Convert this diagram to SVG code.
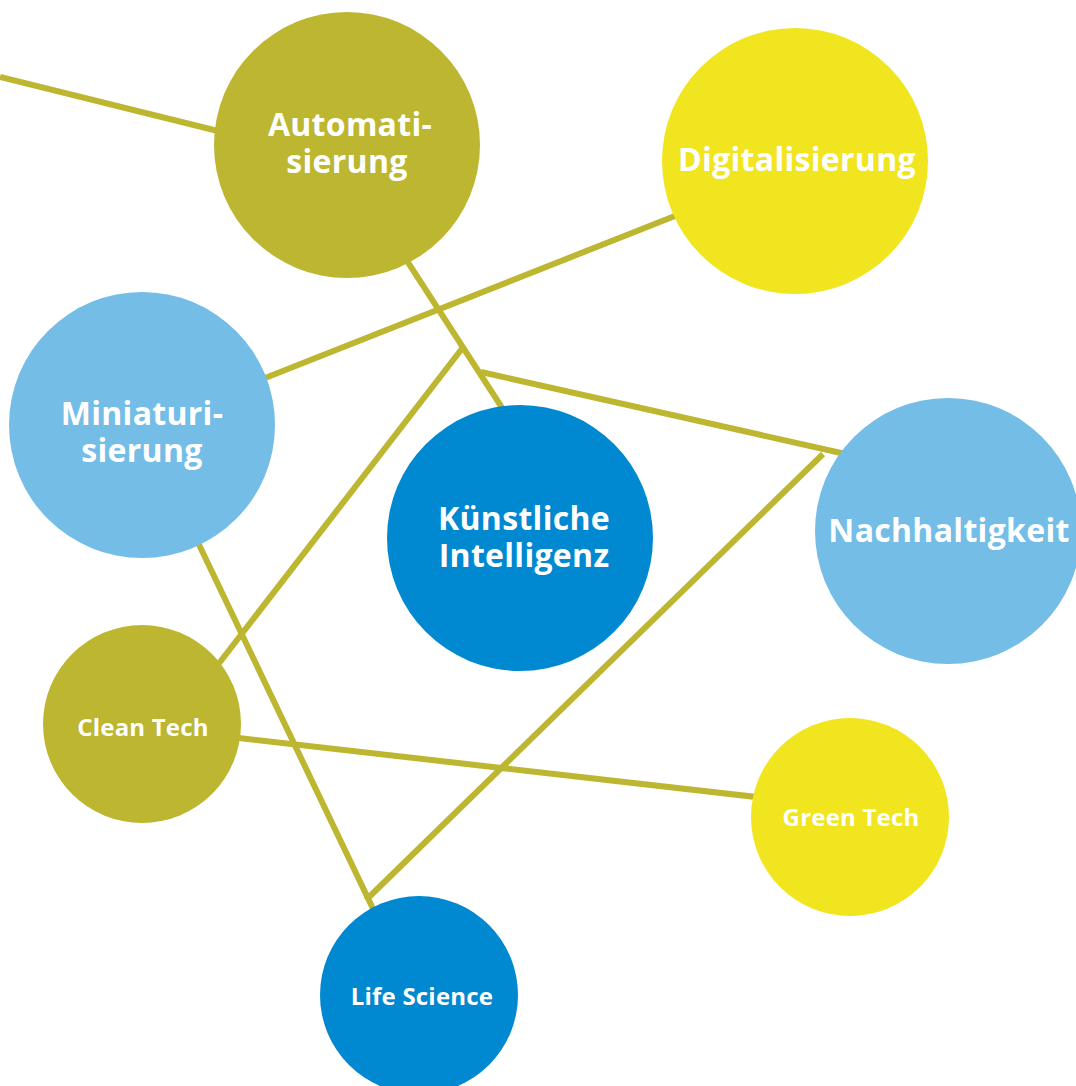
<svg xmlns="http://www.w3.org/2000/svg" width="1076" height="1086" viewBox="0 0 1076 1086">
  <style>
    .link { stroke: #BDB631; stroke-width: 6; fill: none; stroke-linecap: butt; stroke-linejoin: miter; }
    .olive { fill: #BDB631; }
    .yellow { fill: #F1E51F; }
    .sky { fill: #74BDE7; }
    .blue { fill: #0088D0; }
    .label { fill: #FFFFFF; font-family: "Open Sans", "Noto Sans", "Liberation Sans", sans-serif; font-weight: 700; text-anchor: middle; }
    .big { font-size: 32px; letter-spacing: 0.3px; }
    .small { font-size: 24px; letter-spacing: 0.2px; }
  </style>
  <rect width="1076" height="1086" fill="#FFFFFF"/>

  <!-- connectors, drawn under the nodes -->
  <g id="connectors">
    <line class="link" x1="0" y1="77" x2="230" y2="134"/>
    <line class="link" x1="400" y1="250" x2="510" y2="420"/>
    <line class="link" x1="260" y1="380" x2="685" y2="212"/>
    <line class="link" x1="210" y1="675" x2="464" y2="346"/>
    <line class="link" x1="481" y1="372" x2="850" y2="455"/>
    <line class="link" x1="823" y1="454" x2="366" y2="900"/>
    <line class="link" x1="192" y1="530" x2="376" y2="915"/>
    <line class="link" x1="230" y1="737" x2="765" y2="798"/>
  </g>

  <g id="automatisierung">
    <circle class="olive" cx="347" cy="145" r="133"/>
    <text class="label big" x="350" y="136">Automati-</text>
    <text class="label big" x="347" y="173">sierung</text>
  </g>

  <g id="digitalisierung">
    <circle class="yellow" cx="795" cy="161" r="133"/>
    <text class="label big" x="797" y="171">Digitalisierung</text>
  </g>

  <g id="miniaturisierung">
    <circle class="sky" cx="142" cy="425" r="133"/>
    <text class="label big" x="142" y="425">Miniaturi-</text>
    <text class="label big" x="142" y="462">sierung</text>
  </g>

  <g id="kuenstliche-intelligenz">
    <circle class="blue" cx="520" cy="538" r="133"/>
    <text class="label big" x="524" y="530">Künstliche</text>
    <text class="label big" x="524" y="567">Intelligenz</text>
  </g>

  <g id="nachhaltigkeit">
    <circle class="sky" cx="948" cy="531" r="133"/>
    <text class="label big" x="949" y="542">Nachhaltigkeit</text>
  </g>

  <g id="clean-tech">
    <circle class="olive" cx="142" cy="724" r="99"/>
    <text class="label small" x="143" y="736">Clean Tech</text>
  </g>

  <g id="green-tech">
    <circle class="yellow" cx="850" cy="817" r="99"/>
    <text class="label small" x="851" y="826">Green Tech</text>
  </g>

  <g id="life-science">
    <circle class="blue" cx="419" cy="995" r="99"/>
    <text class="label small" x="422" y="1005">Life Science</text>
  </g>
</svg>
